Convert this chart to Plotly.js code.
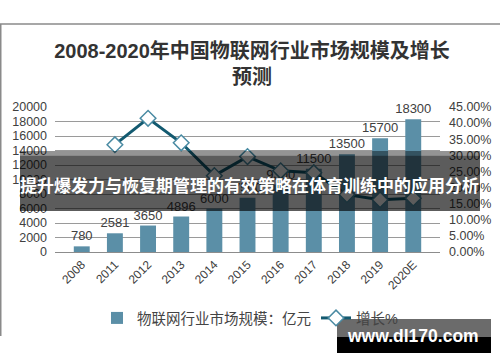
<!DOCTYPE html>
<html>
<head>
<meta charset="utf-8">
<script src="https://cdn.plot.ly/plotly-3.0.1.min.js"></script>
<style>html,body{margin:0;padding:0;background:#fff;}#chart{width:500px;height:362px;}</style>
</head>
<body>
<div id="chart"></div>
<script>
// ---- data ----
const categories = ["2008","2011","2012","2013","2014","2015","2016","2017","2018","2019","2020E"];
const marketSize = [780, 2581, 3650, 4896, 6000, 7500, 9300, 11500, 13500, 15700, 18300];
const growth = [null, 0.333, 0.415, 0.339, 0.237, 0.296, 0.252, 0.246, 0.178, 0.162, 0.167];
const seriesNames = ["物联网行业市场规模：亿元", "增长%"];
const titleText = "2008-2020年中国物联网行业市场规模及增长<br>预测";
const bannerText = "提升爆发力与恢复期管理的有效策略在体育训练中的应用分析";
const watermarkText = "www.dl170.com";

// ---- geometry helpers (plot area in px) ----
const W = 500, H = 362;
const PL = 55, PR = 440, PT = 107, PB = 252;
const fx = px => (px - PL) / (PR - PL);
const fy = py => (PB - py) / (PB - PT);

const FONT = '"Liberation Sans", Arial, "Noto Sans CJK SC", sans-serif';

const traces = [
  {
    type: 'bar', x: categories, y: marketSize, name: seriesNames[0],
    marker: {color: '#5B8FA7'}, width: 0.48,
    text: marketSize.map(String), textposition: 'outside', constraintext: 'none',
    textfont: {size: 13, color: '#404040', family: FONT},
    cliponaxis: false, yaxis: 'y'
  },
  {
    type: 'scatter', mode: 'lines+markers', x: categories, y: growth, name: seriesNames[1],
    yaxis: 'y2', connectgaps: false,
    line: {color: '#135A70', width: 3},
    marker: {symbol: 'diamond', size: 12, color: '#ffffff', line: {color: '#4A8BA3', width: 1.5}},
    cliponaxis: false
  }
];

const shapes = [
  // chart frame (top + left edges)
  {type:'line', xref:'paper', yref:'paper', x0: fx(0), x1: fx(500), y0: fy(24), y1: fy(24), line:{color:'#8a8a8a', width:1.5}, layer:'below'},
  {type:'line', xref:'paper', yref:'paper', x0: fx(0.75), x1: fx(0.75), y0: fy(24), y1: fy(336), line:{color:'#8a8a8a', width:1.5}, layer:'below'},
  // banner overlay
  {type:'rect', xref:'paper', yref:'paper', x0: fx(20), x1: fx(480), y0: fy(151), y1: fy(155.5), fillcolor:'rgba(0,0,0,0.42)', line:{width:0}, layer:'above'},
  {type:'rect', xref:'paper', yref:'paper', x0: fx(20), x1: fx(480), y0: fy(155.5), y1: fy(211), fillcolor:'rgba(0,0,0,0.64)', line:{width:0}, layer:'above'},
  // watermark box
  {type:'rect', xref:'paper', yref:'paper', x0: fx(337), x1: fx(491), y0: fy(319), y1: fy(337), fillcolor:'rgba(0,0,0,0.58)', line:{width:0}, layer:'above'},
  {type:'rect', xref:'paper', yref:'paper', x0: fx(337), x1: fx(491), y0: fy(337), y1: fy(353), fillcolor:'#000000', line:{width:0}, layer:'above'}
];

const annotations = [
  {text: '<b>' + bannerText + '</b>', xref:'paper', yref:'paper', x: fx(250), y: fy(184), xanchor:'center', yanchor:'middle', showarrow:false,
   font:{size:17, color:'#ffffff', family:'"Noto Sans CJK SC", sans-serif'}},
  {text: '<b>' + watermarkText + '</b>', xref:'paper', yref:'paper', x: fx(413), y: fy(336), xanchor:'center', yanchor:'middle', showarrow:false,
   font:{size:17.5, color:'#ffffff', family:FONT}}
];

const layout = {
  width: W, height: H,
  margin: {l: PL, r: W - PR, t: PT, b: H - PB, pad: 0},
  paper_bgcolor: '#ffffff', plot_bgcolor: '#ffffff',
  title: {text: titleText, x: 252 / W, xanchor: 'center', xref: 'container', yref: 'container',
          y: 1 - 58 / H, yanchor: 'middle',
          font: {size: 20, color: '#333333', family: FONT, weight: 'bold'}},
  showlegend: true,
  legend: {orientation: 'h', x: fx(250), xanchor: 'center', y: fy(318), yanchor: 'middle',
           font: {size: 14.5, color: '#444444', family: FONT}, bgcolor: 'rgba(0,0,0,0)', itemwidth: 30},
  xaxis: {type: 'category', tickangle: -45, tickfont: {size: 12, color: '#404040', family: FONT},
          showline: true, linecolor: '#8c8c8c', linewidth: 1, ticks: '', showgrid: false},
  yaxis: {range: [0, 20000], dtick: 2000, tick0: 0, tickformat: 'd', showgrid: true, gridcolor: '#9a9a9a', gridwidth: 1,
          zeroline: false, tickfont: {size: 12.5, color: '#404040', family: FONT}, ticks: '', ticklabelstandoff: 7},
  yaxis2: {range: [0, 0.45], dtick: 0.05, tick0: 0, tickformat: '.2%', overlaying: 'y', side: 'right', showgrid: false,
           zeroline: false, tickfont: {size: 12.5, color: '#404040', family: FONT}, ticks: '', ticklabelstandoff: 8},
  bargap: 0.52,
  shapes: shapes,
  annotations: annotations
};

Plotly.newPlot('chart', traces, layout, {displayModeBar: false, staticPlot: true});
</script>
</body>
</html>
